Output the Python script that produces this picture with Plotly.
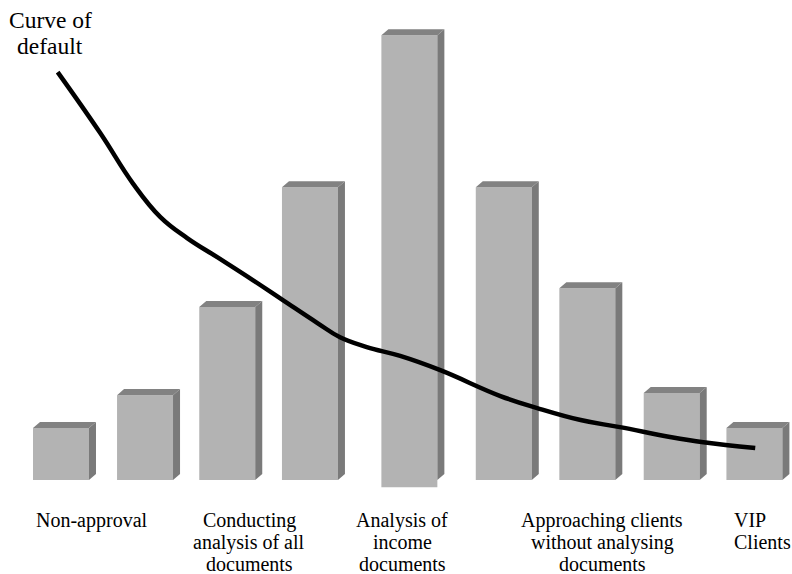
import plotly.graph_objects as go

# ---- data ----
bar_values = [11.7, 19.1, 38.9, 65.8, 100.0, 65.8, 43.1, 19.6, 11.7]
bar_bases = [0, 0, 0, 0, -1.6, 0, 0, 0, 0]
curve_x = [-0.04, 0.47, 0.86, 1.19, 1.51, 1.87, 2.30, 2.66, 3.07, 3.34, 3.66,
           4.06, 4.54, 5.26, 5.70, 6.22, 6.69, 7.29, 7.69, 8.31]
curve_y = [91.7, 78.0, 66.7, 59.1, 54.4, 50.1, 44.9, 40.4, 35.3, 32.1, 29.9,
           27.9, 24.7, 18.9, 16.2, 13.5, 11.9, 9.7, 8.5, 7.2]
stage_labels = [
    ["Non-approval"],
    ["Conducting", "analysis of all", "documents"],
    ["Analysis of", "income", "documents"],
    ["Approaching clients", "without analysing", "documents"],
    ["VIP", "Clients"],
]
curve_label = ["Curve of", "default"]

# ---- layout constants ----
bar_pos = [0, 1.006, 1.99, 2.98, 4.17, 5.30, 6.30, 7.31, 8.30]
bar_w = 0.67
dx, dy = 0.084, 1.35
W, H = 792, 574
label_px = [(92, "center"), (249, "center"), (402, "center"), (602, "center"), (732, "left")]
line_py = [520, 542, 564]
FONT = "Liberation Serif, 'Times New Roman', Times, serif"

fig = go.Figure()
fig.add_trace(go.Bar(x=bar_pos, y=[v - b for v, b in zip(bar_values, bar_bases)],
                     base=bar_bases, width=bar_w,
                     marker=dict(color="#b3b3b3", line=dict(width=0)),
                     hoverinfo="skip"))

side_x, side_y, top_x, top_y = [], [], [], []
for p, v, b in zip(bar_pos, bar_values, bar_bases):
    L, R = p - bar_w / 2, p + bar_w / 2
    side_x += [R, R + dx, R + dx, R, R, None]
    side_y += [v, v + dy, max(b, 0) + dy, max(b, 0), v, None]
    top_x += [L, L + dx, R + dx, R, L, None]
    top_y += [v, v + dy, v + dy, v, v, None]

fig.add_trace(go.Scatter(x=side_x, y=side_y, fill="toself", fillcolor="#7a7a7a",
                         mode="lines", line=dict(width=0, color="#7a7a7a"), hoverinfo="skip"))
fig.add_trace(go.Scatter(x=top_x, y=top_y, fill="toself", fillcolor="#828282",
                         mode="lines", line=dict(width=0, color="#828282"), hoverinfo="skip"))
fig.add_trace(go.Scatter(x=curve_x, y=curve_y, mode="lines",
                         line=dict(color="black", width=4.5, shape="spline", smoothing=1.2),
                         hoverinfo="skip"))

ann = []
for (px, al), lines in zip(label_px, stage_labels):
    for i, t in enumerate(lines):
        ann.append(dict(text=t, xref="paper", yref="paper", x=px / W, y=1 - line_py[i] / H,
                        xanchor=al, yanchor="middle", showarrow=False,
                        font=dict(family=FONT, size=20, color="black")))
for i, t in enumerate(curve_label):
    ann.append(dict(text=t, xref="paper", yref="paper", x=50 / W, y=1 - (20 + 26 * i) / H,
                    xanchor="center", yanchor="middle", showarrow=False,
                    font=dict(family=FONT, size=23.5, color="black")))

fig.update_layout(width=W, height=H, margin=dict(l=0, r=0, t=0, b=0),
                  paper_bgcolor="white", plot_bgcolor="white", showlegend=False,
                  font=dict(family=FONT),
                  xaxis=dict(range=[-0.73, 8.75], visible=False, fixedrange=True),
                  yaxis=dict(range=[-21.1, 107.9], visible=False, fixedrange=True),
                  annotations=ann)
fig.write_html("out.html", config={"displayModeBar": False},
               post_script="document.body.style.margin='0';document.body.style.overflow='hidden';")
